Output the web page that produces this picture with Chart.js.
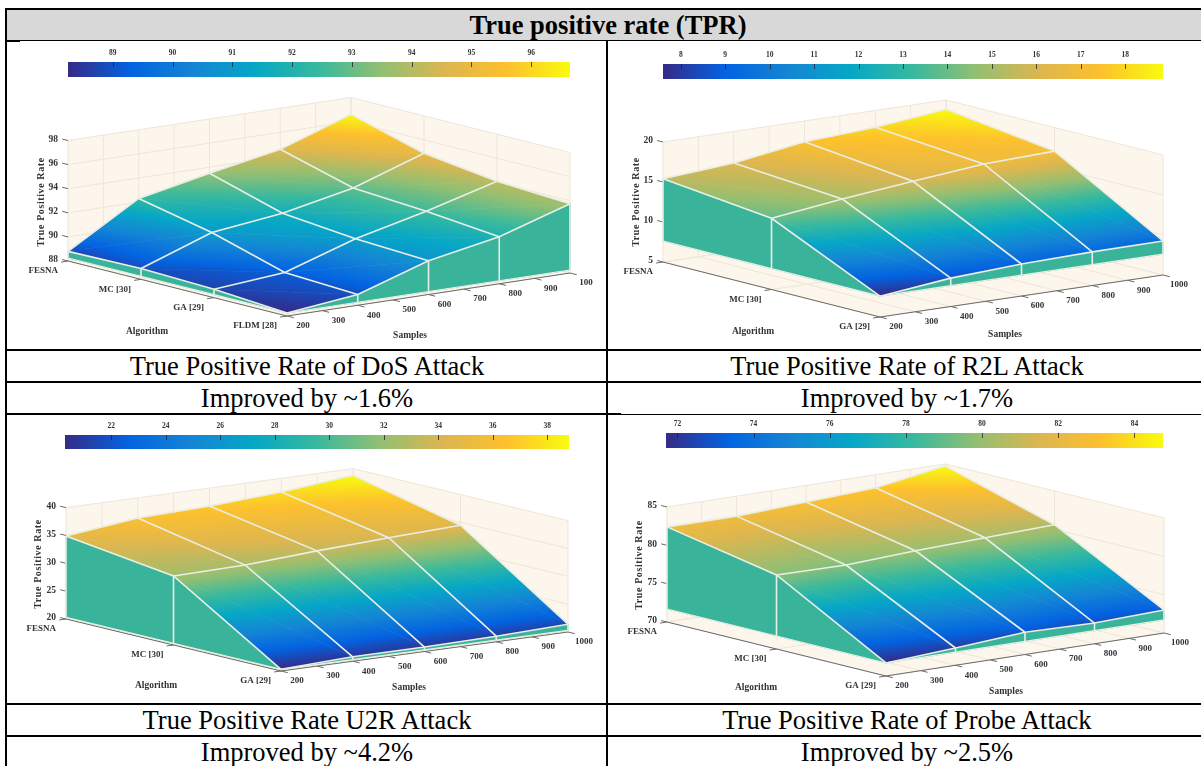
<!DOCTYPE html>
<html>
<head>
<meta charset="utf-8">
<title>True positive rate (TPR)</title>
<script src="https://cdn.jsdelivr.net/npm/chart.js@4/dist/chart.umd.min.js"></script>
<style>
  html, body { margin: 0; padding: 0; background: #fff; }
  body { position: relative; width: 1201px; height: 766px; overflow: hidden; font-family: "Liberation Serif", serif; color: #000; }
  .rule { position: absolute; background: #000; }
  .head { position: absolute; left: 7px; top: 10px; width: 1194px; height: 30px; background: #d8d8d8; }
  .txt { position: absolute; font-size: 26.5px; line-height: 30px; height: 30px; white-space: nowrap; transform: translateX(-50%); }
  canvas { position: absolute; filter: blur(0.35px); }
</style>
</head>
<body>
<div class="head"></div>
<div class="rule" style="left:5px;top:8px;width:1196px;height:2px"></div>
<div class="rule" style="left:5px;top:8px;width:2px;height:758px"></div>
<div class="rule" style="left:7px;top:40px;width:1194px;height:1px"></div>
<div class="rule" style="left:7px;top:40px;width:13px;height:2px"></div>
<div class="rule" style="left:606px;top:41px;width:2px;height:725px"></div>
<div class="rule" style="left:5px;top:349px;width:1196px;height:2px"></div>
<div class="rule" style="left:5px;top:381px;width:1196px;height:2px"></div>
<div class="rule" style="left:5px;top:414px;width:1196px;height:1px"></div>
<div class="rule" style="left:5px;top:413px;width:616px;height:2px"></div>
<div class="rule" style="left:5px;top:703px;width:1196px;height:2px"></div>
<div class="rule" style="left:5px;top:735px;width:1196px;height:2px"></div>

<div class="txt" style="left:608px;top:10px;font-weight:bold">True positive rate (TPR)</div>
<div class="txt" style="left:307px;top:351px">True Positive Rate of DoS Attack</div>
<div class="txt" style="left:907px;top:351px">True Positive Rate of R2L Attack</div>
<div class="txt" style="left:307px;top:383px">Improved by ~1.6%</div>
<div class="txt" style="left:907px;top:383px">Improved by ~1.7%</div>
<div class="txt" style="left:307px;top:705px">True Positive Rate U2R Attack</div>
<div class="txt" style="left:907px;top:705px">True Positive Rate of Probe Attack</div>
<div class="txt" style="left:307px;top:737px">Improved by ~4.2%</div>
<div class="txt" style="left:907px;top:737px">Improved by ~2.5%</div>

<script>
/* global Chart */

// ================== DATA ==================
const samples = [200, 400, 600, 800, 1000];
const sampleTicks = [200, 300, 400, 500, 600, 700, 800, 900, 1000];
const sampleLabels = ["200", "300", "400", "500", "600", "700", "800", "900", "1000"];
// the DoS panel has its last label cut to 100
const dosSampleLabels = ["200", "300", "400", "500", "600", "700", "800", "900", "100"];

const dosAlgorithms = ["FESNA", "MC [30]", "GA [29]", "FLDM [28]"];
const otherAlgorithms = ["FESNA", "MC [30]", "GA [29]"];

// one row per algorithm, one value per entry of samples
const dosTpr = [
  [88.8, 92.3, 93.5, 94.6, 96.6],
  [88.9, 91.0, 91.7, 92.9, 94.9],
  [88.7, 89.2, 91.1, 92.5, 94.1],
  [88.25, 88.9, 90.8, 91.9, 93.75],
];
const r2lTpr = [
  [15.4, 16.05, 17.4, 17.9, 18.85],
  [13.9, 15.0, 15.9, 16.75, 17.05],
  [7.6, 8.55, 9.0, 9.2, 9.25],
];
const u2rTpr = [
  [34.9, 36.4, 36.8, 37.55, 38.8],
  [32.4, 32.6, 33.4, 34.0, 34.5],
  [20.3, 20.8, 20.8, 21.0, 21.4],
];
const probeTpr = [
  [82.4, 82.4, 82.85, 83.3, 84.75],
  [79.65, 79.55, 80.0, 80.3, 80.6],
  [71.7, 72.25, 72.9, 72.7, 73.0],
];

const dosZTicks = [88, 90, 92, 94, 96, 98];
const r2lZTicks = [5, 10, 15, 20];
const u2rZTicks = [20, 25, 30, 35, 40];
const probeZTicks = [70, 75, 80, 85];

// parula, orange end nudged towards the picture
const colormap = ["#352a87", "#0363e1", "#1485d4", "#06a7c6", "#38b99e", "#92bf73", "#dcb650", "#fdc02e", "#f9fb0e"];

const SKIRT = "#39b49b";
const EDGE = "#e9efe4";
const WALL = "#fdf6ec";
const WALL_LINE = "#eee6da";
const AXIS = "#6a6a6a";
const INK = "#333";

// ================== PANELS ==================
const panels = [
  {
    tpr: dosTpr, algorithms: dosAlgorithms, labels: dosSampleLabels, zTicks: dosZTicks,
    cell: { left: 7, top: 41, width: 599, height: 308 },
    view: { ox: 68, oy: 261, sx: 283, sy: -43, ax: 219, ay: 55, zPx: 12.05 },
    bar: { left: 68, right: 570, top: 62, bottom: 77, min: 88.25, max: 96.65, step: 1 },
    algTitle: [147, 332], sampleTitle: [410, 336], zTitle: [41, 202],
  },
  {
    tpr: r2lTpr, algorithms: otherAlgorithms, labels: sampleLabels, zTicks: r2lZTicks,
    cell: { left: 608, top: 41, width: 593, height: 308 },
    view: { ox: 663, oy: 262, sx: 283, sy: -42, ax: 217, ay: 55, zPx: 8 },
    bar: { left: 663, right: 1163, top: 64, bottom: 79, min: 7.6, max: 18.85, step: 1 },
    algTitle: [753, 332], sampleTitle: [1005, 335], zTitle: [636, 202],
  },
  {
    tpr: u2rTpr, algorithms: otherAlgorithms, labels: sampleLabels, zTicks: u2rZTicks,
    cell: { left: 7, top: 415, width: 599, height: 288 },
    view: { ox: 66, oy: 619, sx: 287, sy: -39, ax: 215, ay: 52, zPx: 5.57 },
    bar: { left: 65, right: 569, top: 435, bottom: 449, min: 20.3, max: 38.8, step: 2 },
    algTitle: [156, 686], sampleTitle: [409, 688], zTitle: [38, 564],
  },
  {
    tpr: probeTpr, algorithms: otherAlgorithms, labels: sampleLabels, zTicks: probeZTicks,
    cell: { left: 608, top: 415, width: 593, height: 288 },
    view: { ox: 667, oy: 622, sx: 278, sy: -43, ax: 219, ay: 54, zPx: 7.67 },
    bar: { left: 666, right: 1163, top: 433, bottom: 448, min: 71.7, max: 84.75, step: 2 },
    algTitle: [756, 688], sampleTitle: [1006, 692], zTitle: [639, 565],
  },
];

// ================== 3D HELPERS ==================
function makeProject(panel) {
  const { ox, oy, sx, sy, ax, ay, zPx } = panel.view;
  const zBase = panel.zTicks[0];
  const sMin = sampleTicks[0];
  const sMax = sampleTicks[sampleTicks.length - 1];
  const lastAlg = panel.algorithms.length - 1;
  return (sample, alg, z) => {
    const s = (sample - sMin) / (sMax - sMin);
    const a = alg / lastAlg;
    return { x: ox + sx * s + ax * a, y: oy + sy * s + ay * a - zPx * (z - zBase) };
  };
}

function stopColors(gradient) {
  colormap.forEach((c, i) => gradient.addColorStop(i / (colormap.length - 1), c));
  return gradient;
}

// A flat triangle has z linear on screen, so one linear gradient shades it exactly
function triangleGradient(context, tri, bar) {
  // options also get resolved once before the first layout, scales have no pixels yet
  if (!context.chart.chartArea) return SKIRT;
  const { x: xs, y: ys } = context.chart.scales;
  const pts = tri.map((v) => ({ x: xs.getPixelForValue(v.x), y: ys.getPixelForValue(v.y), z: v.z }));
  const ux = pts[1].x - pts[0].x, uy = pts[1].y - pts[0].y, uz = pts[1].z - pts[0].z;
  const vx = pts[2].x - pts[0].x, vy = pts[2].y - pts[0].y, vz = pts[2].z - pts[0].z;
  const det = ux * vy - uy * vx;
  const gx = (uz * vy - uy * vz) / det;
  const gy = (ux * vz - uz * vx) / det;
  const len2 = gx * gx + gy * gy;
  const t0 = (bar.min - pts[0].z) / len2;
  const t1 = (bar.max - pts[0].z) / len2;
  return stopColors(context.chart.ctx.createLinearGradient(
    pts[0].x + gx * t0, pts[0].y + gy * t0, pts[0].x + gx * t1, pts[0].y + gy * t1));
}

function lineSet(data, color, width) {
  return { data, showLine: true, fill: false, borderColor: color, borderWidth: width, pointRadius: 0, tension: 0 };
}
function polySet(data, color) {
  const closed = data.concat([data[0]]);
  return { data: closed, showLine: true, fill: "shape", backgroundColor: color, borderColor: color, borderWidth: 0.6, pointRadius: 0, tension: 0 };
}

function buildDatasets(panel) {
  const project = makeProject(panel);
  const sets = [];
  const zLow = panel.zTicks[0];
  const zHigh = panel.zTicks[panel.zTicks.length - 1];
  const floor = panel.bar.min;
  const sFirst = sampleTicks[0];
  const sLast = sampleTicks[sampleTicks.length - 1];
  const lastAlg = panel.algorithms.length - 1;

  // back walls and floor
  sets.push(polySet([project(sFirst, 0, zLow), project(sLast, 0, zLow), project(sLast, 0, zHigh), project(sFirst, 0, zHigh)], WALL));
  sets.push(polySet([project(sLast, 0, zLow), project(sLast, lastAlg, zLow), project(sLast, lastAlg, zHigh), project(sLast, 0, zHigh)], WALL));
  sets.push(polySet([project(sFirst, 0, zLow), project(sLast, 0, zLow), project(sLast, lastAlg, zLow), project(sFirst, lastAlg, zLow)], WALL));

  // wall and floor grid
  panel.zTicks.forEach((z) => {
    sets.push(lineSet([project(sFirst, 0, z), project(sLast, 0, z), project(sLast, lastAlg, z)], WALL_LINE, 1));
  });
  sampleTicks.forEach((s) => {
    sets.push(lineSet([project(s, lastAlg, zLow), project(s, 0, zLow), project(s, 0, zHigh)], WALL_LINE, 1));
  });
  panel.algorithms.forEach((name, a) => {
    sets.push(lineSet([project(sFirst, a, zLow), project(sLast, a, zLow), project(sLast, a, zHigh)], WALL_LINE, 1));
  });

  // axis lines with their tick marks
  sets.push(lineSet([project(sFirst, 0, zLow), project(sFirst, lastAlg, zLow), project(sLast, lastAlg, zLow)], AXIS, 1));
  const { sx, sy, ax, ay } = panel.view;
  const aLen = Math.hypot(ax, ay), sLen = Math.hypot(sx, sy);
  sampleTicks.forEach((s) => {
    const p = project(s, lastAlg, zLow);
    sets.push(lineSet([p, { x: p.x + (ax / aLen) * 7, y: p.y + (ay / aLen) * 7 }], AXIS, 1));
  });
  panel.algorithms.forEach((name, a) => {
    const p = project(sFirst, a, zLow);
    sets.push(lineSet([p, { x: p.x - (sx / sLen) * 7, y: p.y - (sy / sLen) * 7 }], AXIS, 1));
  });
  panel.zTicks.forEach((z) => {
    const p = project(sFirst, 0, z);
    sets.push(lineSet([p, { x: p.x - (ax / aLen) * 6, y: p.y - (ay / aLen) * 6 }], AXIS, 1));
  });

  // skirt hanging off the two front edges of the surface
  const tpr = panel.tpr;
  for (let a = 0; a < lastAlg; a++) {
    sets.push(polySet([project(sFirst, a, tpr[a][0]), project(sFirst, a + 1, tpr[a + 1][0]), project(sFirst, a + 1, floor), project(sFirst, a, floor)], SKIRT));
  }
  for (let i = 0; i < samples.length - 1; i++) {
    sets.push(polySet([project(samples[i], lastAlg, tpr[lastAlg][i]), project(samples[i + 1], lastAlg, tpr[lastAlg][i + 1]), project(samples[i + 1], lastAlg, floor), project(samples[i], lastAlg, floor)], SKIRT));
  }

  // surface, two triangles per grid cell
  for (let a = 0; a < lastAlg; a++) {
    for (let i = 0; i < samples.length - 1; i++) {
      const vertex = (aa, ii) => ({ ...project(samples[ii], aa, tpr[aa][ii]), z: tpr[aa][ii] });
      const corners = [vertex(a, i), vertex(a, i + 1), vertex(a + 1, i + 1), vertex(a + 1, i)];
      [[corners[0], corners[1], corners[2]], [corners[0], corners[2], corners[3]]].forEach((tri) => {
        const paint = (context) => triangleGradient(context, tri, panel.bar);
        sets.push(polySet(tri.map((v) => ({ x: v.x, y: v.y })), paint));
      });
    }
  }

  // mesh lines over the surface and down the skirt
  tpr.forEach((row, a) => {
    sets.push(lineSet(row.map((z, i) => project(samples[i], a, z)), EDGE, 1.6));
  });
  samples.forEach((s, i) => {
    sets.push(lineSet(tpr.map((row, a) => project(s, a, row[i])), EDGE, 1.6));
    sets.push(lineSet([project(s, lastAlg, tpr[lastAlg][i]), project(s, lastAlg, floor)], EDGE, 1.6));
  });
  tpr.forEach((row, a) => {
    sets.push(lineSet([project(sFirst, a, row[0]), project(sFirst, a, floor)], EDGE, 1.6));
  });
  sets.push(lineSet(tpr.map((row, a) => project(sFirst, a, floor)).concat(samples.map((s) => project(s, lastAlg, floor))), EDGE, 1.2));

  // lowest order is painted last, so keep the array in painter's order
  sets.forEach((d, i) => { d.order = -i; });
  return sets;
}

function buildTexts(panel) {
  const project = makeProject(panel);
  const zLow = panel.zTicks[0];
  const sFirst = sampleTicks[0];
  const lastAlg = panel.algorithms.length - 1;
  const texts = [];
  panel.labels.forEach((label, i) => {
    const p = project(sampleTicks[i], lastAlg, zLow);
    texts.push({ text: label, x: p.x + 16, y: p.y + 10, align: "center", font: "bold 9px" });
  });
  panel.algorithms.forEach((name, a) => {
    const p = project(sFirst, a, zLow);
    texts.push({ text: name, x: p.x - 10, y: p.y + 10, align: "right", font: "bold 9px" });
  });
  panel.zTicks.forEach((z) => {
    const p = project(sFirst, 0, z);
    texts.push({ text: String(z), x: p.x - 10, y: p.y - 1, align: "right", font: "bold 9.5px" });
  });
  texts.push({ text: "Algorithm", x: panel.algTitle[0], y: panel.algTitle[1], align: "center", font: "bold 9.5px" });
  texts.push({ text: "Samples", x: panel.sampleTitle[0], y: panel.sampleTitle[1], align: "center", font: "bold 9.5px" });
  texts.push({ text: "True Positive Rate", x: panel.zTitle[0], y: panel.zTitle[1], align: "center", font: "bold 10px", rotate: true, spacing: "0.6px" });
  return texts;
}

// 3D tick labels cannot come from a cartesian axis, so they are placed through the scales
const textPlugin = {
  id: "panelText",
  afterDatasetsDraw(chart, args, opts) {
    const { ctx, scales } = chart;
    opts.items.forEach((t) => {
      ctx.save();
      ctx.font = t.font + ' "Liberation Serif", serif';
      ctx.fillStyle = INK;
      ctx.textAlign = t.align;
      ctx.textBaseline = "middle";
      ctx.letterSpacing = t.spacing || "0px";
      ctx.translate(scales.x.getPixelForValue(t.x), scales.y.getPixelForValue(t.y));
      if (t.rotate) ctx.rotate(-Math.PI / 2);
      ctx.fillText(t.text, 0, 0);
      ctx.restore();
    });
  },
};

// short dark ticks running into the top of the colour bar
const barTickPlugin = {
  id: "barTicks",
  afterDatasetsDraw(chart) {
    const { ctx, scales, chartArea } = chart;
    ctx.save();
    ctx.strokeStyle = "rgba(30,30,40,.75)";
    ctx.lineWidth = 1;
    scales.x.ticks.forEach((tick) => {
      const x = Math.round(scales.x.getPixelForValue(tick.value)) + 0.5;
      ctx.beginPath();
      ctx.moveTo(x, chartArea.top);
      ctx.lineTo(x, chartArea.top + 5);
      ctx.stroke();
    });
    ctx.restore();
  },
};

function addCanvas(left, top, width, height) {
  const canvas = document.createElement("canvas");
  canvas.width = width;
  canvas.height = height;
  canvas.style.left = left + "px";
  canvas.style.top = top + "px";
  canvas.style.width = width + "px";
  canvas.style.height = height + "px";
  document.body.appendChild(canvas);
  return canvas;
}

// ================== CHARTS ==================
panels.forEach((panel) => {
  const { cell, bar } = panel;

  new Chart(addCanvas(cell.left, cell.top, cell.width, cell.height), {
    type: "scatter",
    data: { datasets: buildDatasets(panel) },
    options: {
      responsive: false,
      animation: false,
      events: [],
      layout: { padding: 0 },
      scales: {
        x: { type: "linear", display: false, min: cell.left, max: cell.left + cell.width },
        y: { type: "linear", display: false, min: cell.top, max: cell.top + cell.height, reverse: true },
      },
      plugins: { legend: { display: false }, tooltip: { enabled: false }, panelText: { items: buildTexts(panel) } },
    },
    plugins: [textPlugin],
  });

  const barLabelHeight = 14;
  new Chart(addCanvas(bar.left, bar.top - barLabelHeight, bar.right - bar.left, bar.bottom - bar.top + barLabelHeight), {
    type: "bar",
    data: {
      labels: ["TPR"],
      datasets: [{
        data: [[bar.min, bar.max]],
        barPercentage: 1,
        categoryPercentage: 1,
        borderWidth: 0,
        backgroundColor(context) {
          if (!context.chart.chartArea) return SKIRT;
          const { x } = context.chart.scales;
          return stopColors(context.chart.ctx.createLinearGradient(x.getPixelForValue(bar.min), 0, x.getPixelForValue(bar.max), 0));
        },
      }],
    },
    options: {
      indexAxis: "y",
      responsive: false,
      animation: false,
      events: [],
      layout: { padding: 0 },
      scales: {
        x: {
          type: "linear",
          position: "top",
          min: bar.min,
          max: bar.max,
          afterFit(scale) { scale.height = barLabelHeight; },
          grid: { display: false, drawTicks: false },
          border: { display: true, color: "rgba(40,60,70,.7)" },
          ticks: {
            stepSize: bar.step,
            includeBounds: false,
            autoSkip: false,
            maxRotation: 0,
            padding: 4,
            color: INK,
            font: { family: '"Liberation Serif", serif', size: 7.5, weight: "bold" },
          },
        },
        y: { display: false },
      },
      plugins: { legend: { display: false }, tooltip: { enabled: false } },
    },
    plugins: [barTickPlugin],
  });
});
</script>
</body>
</html>
